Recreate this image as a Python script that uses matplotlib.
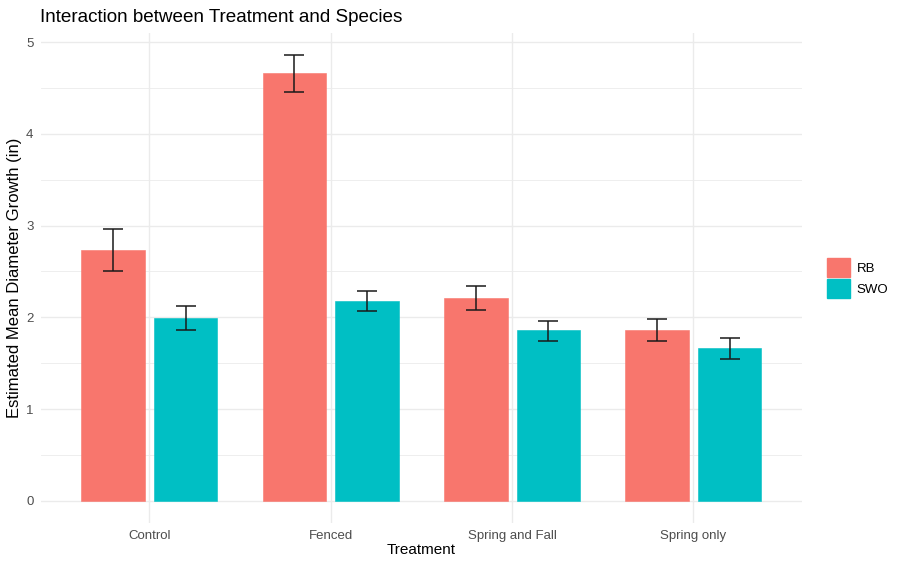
import matplotlib
matplotlib.use("Agg")
from matplotlib import pyplot as plt
from matplotlib.patches import Patch
import numpy as np

plt.rcParams["font.family"] = ["Liberation Sans", "DejaVu Sans"]

treatments = ["Control", "Fenced", "Spring and Fall", "Spring only"]
species = ["RB", "SWO"]
colors = ["#F8766D", "#00BFC4"]

# estimated means and error bar bounds
means = {
    "RB": [2.73, 4.66, 2.21, 1.86],
    "SWO": [1.99, 2.18, 1.86, 1.67],
}
lower = {
    "RB": [2.51, 4.46, 2.08, 1.745],
    "SWO": [1.86, 2.07, 1.745, 1.55],
}
upper = {
    "RB": [2.96, 4.86, 2.34, 1.985],
    "SWO": [2.12, 2.29, 1.96, 1.77],
}

fig = plt.figure(figsize=(9.01, 5.70), dpi=100)
ax = fig.add_axes([40.5 / 901, 1 - 523 / 570, (802.3 - 40.5) / 901, (523 - 33) / 570])

x = np.arange(1, len(treatments) + 1)
width = 0.35
offsets = [-0.2, 0.2]

for sp, col, off in zip(species, colors, offsets):
    m = np.array(means[sp])
    lo = m - np.array(lower[sp])
    hi = np.array(upper[sp]) - m
    ax.bar(x + off, m, width=width, color=col, edgecolor=col, linewidth=0.4, zorder=2)
    ax.errorbar(x + off, m, yerr=[lo, hi], fmt="none", ecolor="#1a1a1a",
                elinewidth=1.1, capsize=7.5, capthick=1.1, zorder=3)

ax.set_xlim(0.4, 4.6)
ax.set_ylim(-0.243, 5.1)
ax.set_xticks(x)
ax.set_xticklabels(treatments)
ax.set_yticks([0, 1, 2, 3, 4, 5])
ax.set_yticks([0.5, 1.5, 2.5, 3.5, 4.5], minor=True)

ax.grid(True, which="major", color="#EBEBEB", linewidth=1.0, zorder=0)
ax.grid(True, which="minor", axis="y", color="#EBEBEB", linewidth=0.6, zorder=0)
ax.set_axisbelow(True)
for s in ax.spines.values():
    s.set_visible(False)
ax.tick_params(axis="both", which="both", length=0, labelsize=9.5, labelcolor="#4D4D4D")
ax.tick_params(axis="x", pad=5)
ax.tick_params(axis="y", pad=5)

ax.set_xlabel("Treatment", fontsize=11, labelpad=1)
ax.set_ylabel("Estimated Mean Diameter Growth (in)", fontsize=12, labelpad=3)
fig.text(40 / 901, 1 - 17 / 570, "Interaction between Treatment and Species",
         fontsize=13.6, ha="left", va="center")

handles = [Patch(facecolor=c, edgecolor=c, label=s) for s, c in zip(species, colors)]
fig.legend(handles=handles, loc="center left", bbox_to_anchor=(816 / 901, 1 - 278 / 570),
           frameon=False, fontsize=9.5, handlelength=1.75, handleheight=1.9,
           handletextpad=0.55, labelspacing=0.1, borderpad=0.3)

fig.savefig("out.png", dpi=100)
